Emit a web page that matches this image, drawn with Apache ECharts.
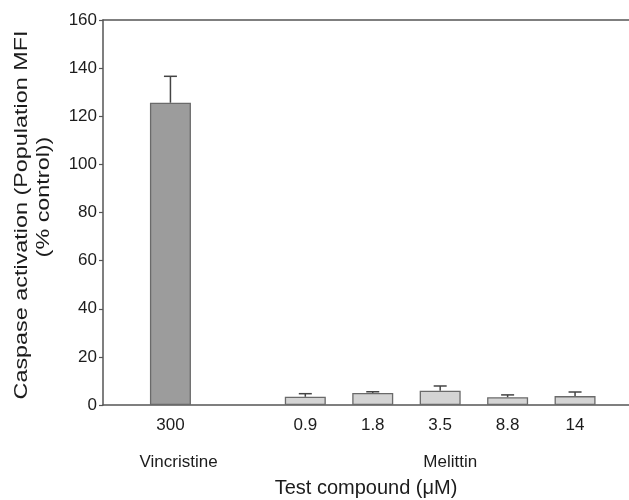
<!DOCTYPE html>
<html>
<head>
<meta charset="utf-8">
<script src="https://cdn.jsdelivr.net/npm/echarts@6/dist/echarts.min.js"></script>
<style>
  html, body { margin: 0; padding: 0; background: #fff; }
  #chart { width: 629px; height: 500px; }
</style>
</head>
<body>
<div id="chart"></div>
<script>
// data
var positions = [1, 3, 4, 5, 6, 7];
var doseLabels = ['300', '0.9', '1.8', '3.5', '8.8', '14'];
var means = [125.6, 3.4, 5.0, 5.9, 3.2, 3.7];
var errUp = [11.0, 1.3, 0.5, 2.0, 1.0, 1.7];
var barColors = ['#9c9c9c', '#d4d4d4', '#d4d4d4', '#d4d4d4', '#d4d4d4', '#d4d4d4'];
var groupNames = ['Vincristine', 'Melittin'];
var groupCenters = [1.12, 5.15];
var yTitleLines = ['Caspase activation (Population MFI', '(% control))'];

var txt = '#1c1c1c';
var axisCol = '#555';
var font = 'Liberation Sans, Arial, sans-serif';

var myChart = echarts.init(document.getElementById('chart'));

var barData = positions.map(function(p, i) {
  return {
    value: [p, means[i]],
    itemStyle: { color: barColors[i], borderColor: '#6a6a6a', borderWidth: 1.3 }
  };
});
var errData = positions.map(function(p, i) {
  return [p, means[i], means[i] + errUp[i]];
});

var option = {
  animation: false,
  backgroundColor: '#fff',
  grid: { left: 103, right: 0, top: 20, bottom: 95, outerBoundsMode: 'none', containLabel: false },
  xAxis: [
    {
      type: 'value',
      min: 0,
      max: 7.8,
      interval: 1,
      splitLine: { show: false },
      axisLine: { lineStyle: { color: axisCol, width: 1.5 } },
      axisTick: { show: false },
      axisLabel: {
        color: txt, fontSize: 17, fontFamily: font, margin: 12,
        showMaxLabel: false,
        formatter: function(v) {
          var k = positions.indexOf(v);
          return k >= 0 ? doseLabels[k] : '';
        }
      },
      name: 'Test compound (\u03bcM)',
      nameLocation: 'middle',
      nameGap: 73,
      nameTextStyle: { color: txt, fontSize: 20, fontFamily: font }
    },
    {
      type: 'value',
      position: 'top',
      min: 0,
      max: 7.8,
      splitLine: { show: false },
      axisLine: { show: true, lineStyle: { color: axisCol, width: 1.5 } },
      axisTick: { show: false },
      axisLabel: { show: false }
    }
  ],
  yAxis: {
    type: 'value',
    min: 0,
    max: 160,
    interval: 20,
    splitLine: { show: false },
    axisLine: { show: true, lineStyle: { color: axisCol, width: 1.5 } },
    axisTick: { show: true, length: 4, lineStyle: { color: axisCol, width: 1.2 } },
    axisLabel: { color: txt, fontSize: 17, fontFamily: font, margin: 6 }
  },
  series: [
    {
      type: 'bar',
      barWidth: 41,
      data: barData
    },
    {
      type: 'custom',
      data: errData,
      z: 1,
      renderItem: function(params, api) {
        var base = api.coord([api.value(0), api.value(1)]);
        var top = api.coord([api.value(0), api.value(2)]);
        var half = 6.5;
        var st = { stroke: '#444', lineWidth: 1.5 };
        return {
          type: 'group',
          children: [
            { type: 'line', shape: { x1: base[0], y1: base[1], x2: top[0], y2: top[1] }, style: st },
            { type: 'line', shape: { x1: top[0] - half, y1: top[1], x2: top[0] + half, y2: top[1] }, style: st }
          ]
        };
      }
    }
  ]
};
myChart.setOption(option);

// group labels under the dose labels, placed through the x scale
var baseY = myChart.convertToPixel({ yAxisIndex: 0 }, 0);
var graphics = groupNames.map(function(n, i) {
  var x = myChart.convertToPixel({ xAxisIndex: 0 }, groupCenters[i]);
  return {
    type: 'text',
    x: x,
    y: baseY + 57,
    style: {
      text: n, fill: txt, fontSize: 17, fontFamily: font,
      align: 'center', verticalAlign: 'middle'
    }
  };
});
// y title, two lines, stretched along the text like the source image
var titlePos = [[22, 215], [44, 197]];
yTitleLines.forEach(function(t, i) {
  graphics.push({
    type: 'text',
    x: titlePos[i][0],
    y: titlePos[i][1],
    rotation: Math.PI / 2,
    scaleX: 1.23,
    style: {
      text: t, fill: txt, fontSize: 19, fontFamily: font,
      align: 'center', verticalAlign: 'middle'
    }
  });
});
myChart.setOption({ graphic: graphics });
</script>
</body>
</html>
